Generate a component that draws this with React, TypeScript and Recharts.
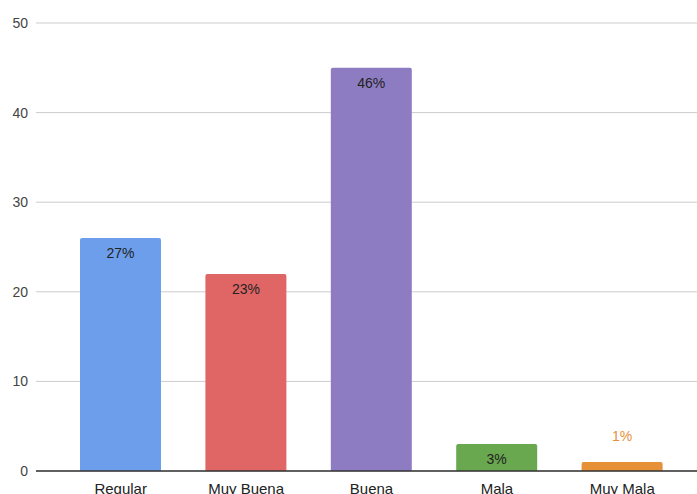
import React from 'react';
import { BarChart, Bar, XAxis, YAxis, CartesianGrid, Cell, LabelList } from 'recharts';

const categories = ['Regular', 'Muy Buena', 'Buena', 'Mala', 'Muy Mala'];
const values = [26, 22, 45, 3, 1];
const percentLabels = ['27%', '23%', '46%', '3%', '1%'];
const yTicks = [0, 10, 20, 30, 40, 50];

const COLORS = ['#6d9eeb', '#e06666', '#8e7cc3', '#6aa84f', '#e69138'];

const data = categories.map((name, i) => ({ name, value: values[i], label: percentLabels[i] }));

const renderLabel = (props: any) => {
  const { x, y, width, height, index } = props;
  const cx = x + width / 2;
  // short bars get their label above the bar, in the bar colour
  if (height < 16) {
    return (
      <text x={cx} y={y - 26} textAnchor="middle" dominantBaseline="central" fontSize={14} fill={COLORS[index]}>
        {percentLabels[index]}
      </text>
    );
  }
  return (
    <text x={cx} y={y + 15} textAnchor="middle" dominantBaseline="central" fontSize={14} fill="#222222">
      {percentLabels[index]}
    </text>
  );
};

export default function App() {
  return (
    <div style={{ position: 'fixed', left: 0, top: 0, width: 697, height: 494, background: '#fff', fontFamily: 'Arial, "Liberation Sans", sans-serif', overflow: 'hidden' }}>
      <BarChart width={697} height={514} data={data} margin={{ top: 23, right: 0, bottom: 0, left: 0 }}>
        <CartesianGrid vertical={false} stroke="#cccccc" />
        <XAxis
          dataKey="name"
          axisLine={{ stroke: '#333333', strokeWidth: 1.5 }}
          tickLine={false}
          tickSize={0}
          tickMargin={12}
          height={43}
          padding={{ left: 22, right: 12 }}
          tick={{ fontSize: 15, fill: '#222222' }}
          interval={0}
        />
        <YAxis
          domain={[0, 50]}
          ticks={yTicks}
          width={36}
          axisLine={false}
          tickLine={false}
          tickSize={0}
          tickMargin={8}
          tick={{ fontSize: 14, fill: '#444444' }}
        />
        <Bar dataKey="value" barSize={81} radius={[2, 2, 0, 0]} isAnimationActive={false}>
          {data.map((entry, index) => (
            <Cell key={`cell-${index}`} fill={COLORS[index]} />
          ))}
          <LabelList dataKey="label" content={renderLabel} />
        </Bar>
      </BarChart>
    </div>
  );
}
